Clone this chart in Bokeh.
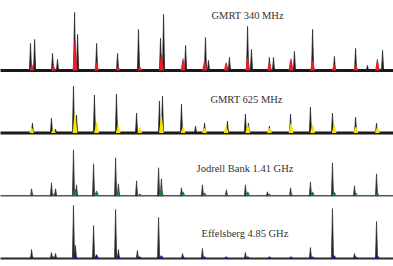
from bokeh.plotting import figure
from bokeh.models import Label, Range1d
from bokeh.embed import file_html
from bokeh.resources import INLINE

# ---------------- data ----------------
panel_names = ["GMRT 340 MHz", "GMRT 625 MHz", "Jodrell Bank 1.41 GHz", "Effelsberg 4.85 GHz"]
panel_colors = ["#ee1c24", "#f0e400", "#1e7b3c", "#1c1c8c"]

pulse_number = list(range(17))

# spike components: time (in pulse periods) and amplitude (arb. units)
gmrt340_t = [0.00, 0.19, 1.02, 1.25, 2.04, 2.18, 3.06, 4.03, 5.00, 6.02, 6.16, 7.08, 7.18,
             8.10, 8.24, 9.21, 10.05, 10.23, 11.06, 11.25, 12.04, 12.22, 13.06, 14.07,
             15.05, 15.60, 16.06, 16.30]
gmrt340_amp = [27, 31, 17, 11, 58, 36, 27, 17, 41, 32, 56, 9, 25,
               33, 10, 13, 44, 21, 13, 13, 10, 19, 41, 14,
               22, 5, 11, 20]
gmrt340_fill = [6, 5, 30, 8, 4, 4, 16, 12, 10, 8, 13, 8, 12, 10, 6, 6, 10]

gmrt625_t = [0.09, 0.97, 1.16, 1.99, 2.13, 2.96, 3.98, 4.91, 5.97, 6.11, 6.99, 7.64,
             8.06, 9.12, 9.95, 10.09, 11.06, 12.04, 12.96, 13.98, 15.05, 16.02]
gmrt625_amp = [10, 15, 4, 47, 18, 38, 39, 20, 32, 37, 29, 7,
               10, 12, 19, 10, 7, 19, 26, 20, 16, 10]
gmrt625_fill = [5, 4, 20, 11, 8, 5, 17, 6, 5, 7, 8, 5, 10, 8, 8, 6, 6]

jb1410_t = [0.05, 0.97, 1.16, 1.99, 2.13, 2.92, 3.94, 4.07, 4.91, 5.93, 6.06, 6.99,
            7.96, 9.07, 9.95, 10.97, 12.04, 12.96, 13.98, 15.00, 16.02]
jb1410_amp = [7, 13, 7, 46, 11, 32, 38, 12, 15, 28, 17, 8,
              11, 6, 11, 4, 8, 14, 33, 10, 22]
jb1410_fill = [3, 2, 7, 5, 5, 2, 7, 4, 3, 2, 4, 2, 3, 4, 4, 3, 3]

eff4850_t = [0.05, 0.97, 1.16, 1.99, 2.08, 2.92, 3.94, 4.07, 4.95, 5.93, 7.04,
             7.96, 9.95, 12.96, 13.98, 15.00, 16.02]
eff4850_amp = [9, 6, 5, 53, 13, 33, 49, 9, 8, 41, 5,
               10, 6, 11, 50, 5, 37]
eff4850_fill = [2, 2, 5, 4, 3, 2, 3, 2, 2, 2, 2, 2, 2, 2, 3, 2, 3]

spike_t = [gmrt340_t, gmrt625_t, jb1410_t, eff4850_t]
spike_amp = [gmrt340_amp, gmrt625_amp, jb1410_amp, eff4850_amp]
fill_amp = [gmrt340_fill, gmrt625_fill, jb1410_fill, eff4850_fill]

# ---------------- layout / style ----------------
PANEL_GAP = 62.7
SPIKE_HW = 0.05
FILL_HW = 0.11
baseline_width = [3.0, 3.0, 1.4, 2.0]
baseline_color = ["#1a1a1a", "#1a1a1a", "#555555", "#2a2a2a"]
spike_color = ["#1e1e1e", "#1e1e1e", "#2e2e2e", "#262626"]
label_x = [8.38, 8.33, 7.69, 7.92]
label_dy = [55, 34, 27, 25]

p = figure(width=393, height=266, output_backend="svg", toolbar_location=None,
           x_range=Range1d(-1.389, 16.806), y_range=Range1d(-8, 258),
           min_border=0, min_border_left=0, min_border_right=0,
           min_border_top=0, min_border_bottom=0)
p.axis.visible = False
p.grid.visible = False
p.outline_line_color = None
p.background_fill_color = "white"
p.border_fill_color = "white"

for i in range(4):
    off = (3 - i) * PANEL_GAP
    # baseline (noise band)
    p.line([-1.5, 16.9], [off, off], line_width=baseline_width[i],
           line_color=baseline_color[i])
    # dark spikes
    sxs, sys_ = [], []
    for t, a in zip(spike_t[i], spike_amp[i]):
        sxs.append([t - SPIKE_HW, t, t + SPIKE_HW])
        sys_.append([off, off + a, off])
    p.patches(sxs, sys_, fill_color=spike_color[i], line_color=spike_color[i],
              line_width=0.7)
    # coloured area at the base of each pulse
    fxs, fys = [], []
    for k, h in zip(pulse_number, fill_amp[i]):
        c = k + 0.06
        fxs.append([c - FILL_HW, c - 0.02, c + 0.02, c + FILL_HW])
        fys.append([off, off + h, off + h, off])
    p.patches(fxs, fys, fill_color=panel_colors[i], line_color=None)
    p.add_layout(Label(x=label_x[i], y=off + label_dy[i], text=panel_names[i],
                       text_font="Liberation Serif", text_font_size="10.5px",
                       text_color="#333333", text_baseline="middle"))

open("out.html", "w").write(file_html(p, INLINE))
